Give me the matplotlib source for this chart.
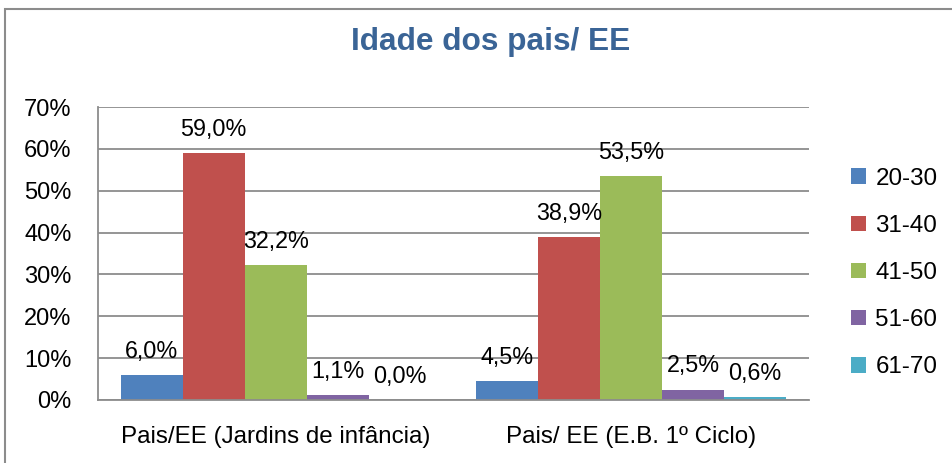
import numpy as np
import matplotlib.pyplot as plt
from matplotlib.patches import Rectangle

plt.rcParams['font.family'] = ['Liberation Sans', 'DejaVu Sans']

categorias = ['Pais/EE (Jardins de infância)', 'Pais/ EE (E.B. 1º Ciclo)']
faixas = ['20-30', '31-40', '41-50', '51-60', '61-70']
valores = [
    [6.0, 4.5],
    [59.0, 38.9],
    [32.2, 53.5],
    [1.1, 2.5],
    [0.0, 0.6],
]
cores = ['#4F81BD', '#C0504D', '#9BBB59', '#8064A2', '#4BACC6']
titulo = 'Idade dos pais/ EE'

fig = plt.figure(figsize=(9.52, 4.63), dpi=100)
ax = fig.add_axes([98 / 952, 1 - 400 / 463, 711 / 952, 293 / 463])

x = np.arange(len(categorias))
largura = 0.1744
for i, (faixa, vals) in enumerate(zip(faixas, valores)):
    pos = x + (i - 2) * largura
    barras = ax.bar(pos, vals, width=largura, color=cores[i], label=faixa)
    for b, v in zip(barras, vals):
        ax.annotate(f'{v:.1f}%'.replace('.', ','), (b.get_x() + b.get_width() / 2, v),
                    xytext=(0, 17), textcoords='offset points',
                    ha='center', va='center', fontsize=16.8)

ax.set_xlim(-0.5, 1.5)
ax.set_ylim(0, 70)
ax.set_yticks(range(0, 71, 10))
ax.set_yticklabels([f'{t}%' for t in range(0, 71, 10)], fontsize=17)
ax.set_xticks(x)
ax.set_xticklabels(categorias, fontsize=17.4)
ax.tick_params(axis='y', length=0, pad=19)
ax.tick_params(axis='x', length=0, pad=19)
ax.yaxis.grid(True, color='#8c8c8c', linewidth=1.3)
ax.set_axisbelow(True)
for s in ['top', 'right']:
    ax.spines[s].set_visible(False)
for s in ['left', 'bottom']:
    ax.spines[s].set_color('#8c8c8c')
    ax.spines[s].set_linewidth(1.3)

leg = fig.legend(loc='center left', bbox_to_anchor=(829 / 952, 1 - 273 / 463),
                 frameon=False, fontsize=17.4, handlelength=0.62, handleheight=0.62,
                 handletextpad=0.4, labelspacing=1.04)

fig.text(491 / 952, 1 - 42 / 463, titulo, ha='center', va='center',
         fontsize=22.8, fontweight='bold', color='#3A6496')

fig.patches.append(Rectangle((5 / 952, -0.1), 1.2, 1 - 9 / 463 + 0.1,
                             transform=fig.transFigure, fill=False,
                             edgecolor='#8c8c8c', linewidth=1.5))

fig.savefig('out.png', dpi=100)
